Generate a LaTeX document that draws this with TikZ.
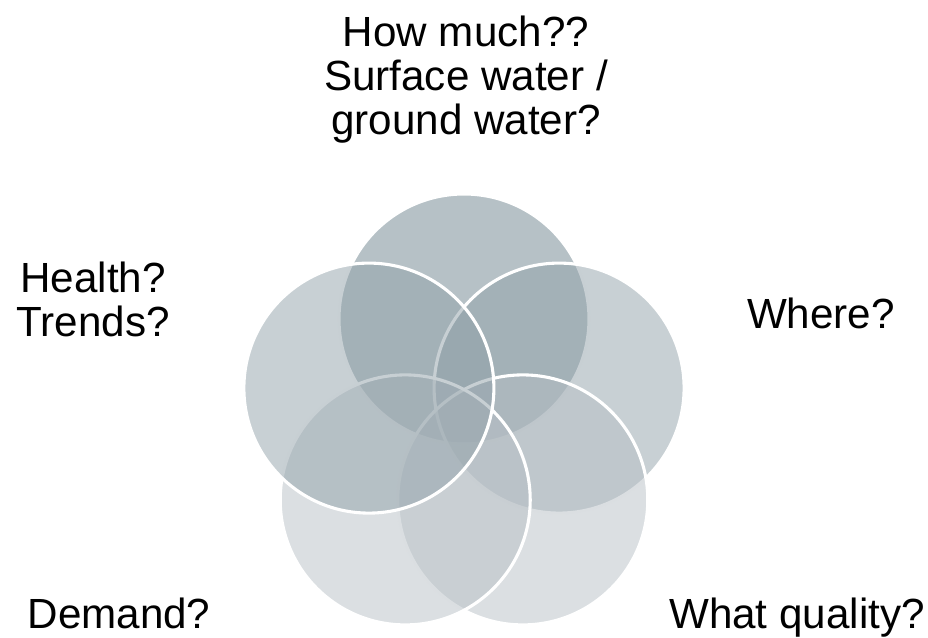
\documentclass[tikz,border=0pt]{standalone}
\usepackage{fontspec}
\setmainfont{Liberation Sans}
\usepackage{tikz}

\definecolor{slatedark}{RGB}{109,131,141}
\definecolor{slatemid}{RGB}{145,161,169}
\definecolor{slatelight}{RGB}{183,191,197}

\begin{document}
\begin{tikzpicture}[every node/.style={inner sep=0pt, font=\fontsize{30}{31}\selectfont},
	petal/.style={circle, minimum size=6.25cm, draw=white, line width=2.2pt, fill opacity=0.5},
	question/.style={anchor=north, align=center}]
	\useasboundingbox (-11.6,-5.45) rectangle (11.6,10.475);
	%Circles
	\node [petal, fill=slatedark] (amount) at (90:2.5) {};
	\node [petal, fill=slatemid] (place) at (18:2.5) {};
	\node [petal, fill=slatelight] (quality) at (-54:2.5) {};
	\node [petal, fill=slatelight] (demand) at (-126:2.5) {};
	\node [petal, fill=slatemid] (health) at (162:2.5) {};
	%Questions
	\node [question] (amountq) at (0.05,10.075) {How much??\\Surface water /\\ground water?};
	\node [question] (placeq) at (8.925,3.025) {Where?};
	\node [question] (qualityq) at (8.325,-4.475) {What quality?};
	\node [question] (demandq) at (-8.625,-4.475) {Demand?};
	\node [question] (healthq) at (-9.275,3.925) {Health?\\Trends?};
\end{tikzpicture}
\end{document}
